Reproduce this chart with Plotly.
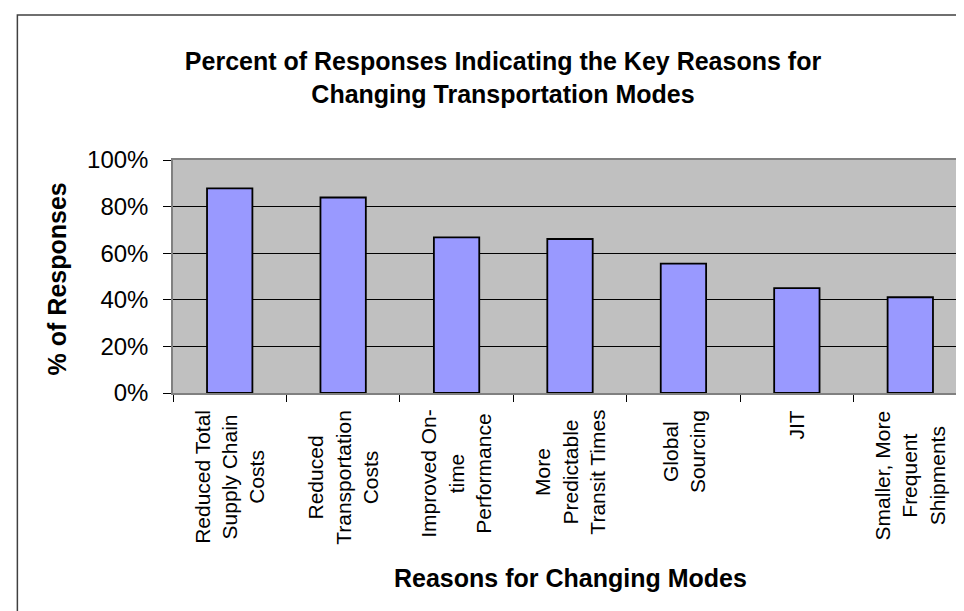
import plotly.graph_objects as go

categories = [
    "Reduced Total Supply Chain Costs",
    "Reduced Transportation Costs",
    "Improved On-time Performance",
    "More Predictable Transit Times",
    "Global Sourcing",
    "JIT",
    "Smaller, More Frequent Shipments",
]
tick_labels = [
    "Reduced Total<br>Supply Chain<br>Costs",
    "Reduced<br>Transportation<br>Costs",
    "Improved On-<br>time<br>Performance",
    "More<br>Predictable<br>Transit Times",
    "Global<br>Sourcing",
    "JIT",
    "Smaller, More<br>Frequent<br>Shipments",
]
responses = [0.878, 0.839, 0.668, 0.661, 0.555, 0.450, 0.411]

FONT = "Liberation Sans, Arial, sans-serif"

fig = go.Figure()

fig.add_trace(go.Bar(
    x=categories,
    y=responses,
    marker=dict(color="#9999FF", line=dict(color="black", width=1.8)),
    hoverinfo="x+y",
))

# rotated category labels, lines centred like the original
for cat, lab in zip(categories, tick_labels):
    fig.add_annotation(
        x=cat, xref="x",
        y=-0.065, yref="paper",
        text=lab, textangle=-90,
        showarrow=False, align="center",
        xanchor="center", yanchor="top",
        font=dict(family=FONT, size=21, color="black"),
    )

fig.add_annotation(
    x=0.5, xref="paper", y=-0.794, yref="paper",
    text="Reasons for Changing Modes", showarrow=False,
    xanchor="center", yanchor="middle",
    font=dict(family=FONT, size=25, color="black", weight="bold"),
)
fig.add_annotation(
    x=-0.1457, xref="paper", y=0.489, yref="paper",
    text="% of Responses", showarrow=False, textangle=-90,
    xanchor="center", yanchor="middle",
    font=dict(family=FONT, size=25, color="black", weight="bold"),
)

# outer chart border (runs off the image on the right and bottom)
fig.add_shape(
    type="rect", xref="paper", yref="paper",
    x0=-0.196, x1=1.2, y0=-1.5, y1=1.622,
    line=dict(color="#404040", width=1.5), fillcolor="rgba(0,0,0,0)",
    layer="below",
)

fig.update_layout(
    width=964, height=611,
    margin=dict(l=165, r=3, t=152, b=226),
    paper_bgcolor="white",
    plot_bgcolor="#C0C0C0",
    bargap=0.6,
    showlegend=False,
    font=dict(family=FONT, color="black"),
    title=dict(
        text="Percent of Responses Indicating the Key Reasons for<br>Changing Transportation Modes",
        x=0.5135, xref="container", xanchor="center",
        y=1 - 62 / 611, yref="container", yanchor="middle",
        font=dict(family=FONT, size=25, color="black", weight="bold"),
    ),
)

fig.update_xaxes(
    showticklabels=False,
    tickson="boundaries",
    ticks="outside", ticklen=7, tickcolor="black", tickwidth=1,
    showline=True, linecolor="#808080", linewidth=1.5, mirror=True,
    showgrid=False,
)
fig.update_yaxes(
    range=[0, 1], dtick=0.2, tickformat=".0%",
    ticks="outside", ticklen=8, tickcolor="black", tickwidth=1,
    ticklabelstandoff=10,
    tickfont=dict(family=FONT, size=24, color="black"),
    showline=True, linecolor="#808080", linewidth=1.5, mirror=True,
    showgrid=True, gridcolor="black", gridwidth=1,
    zeroline=False,
)

fig.write_html("out.html")
